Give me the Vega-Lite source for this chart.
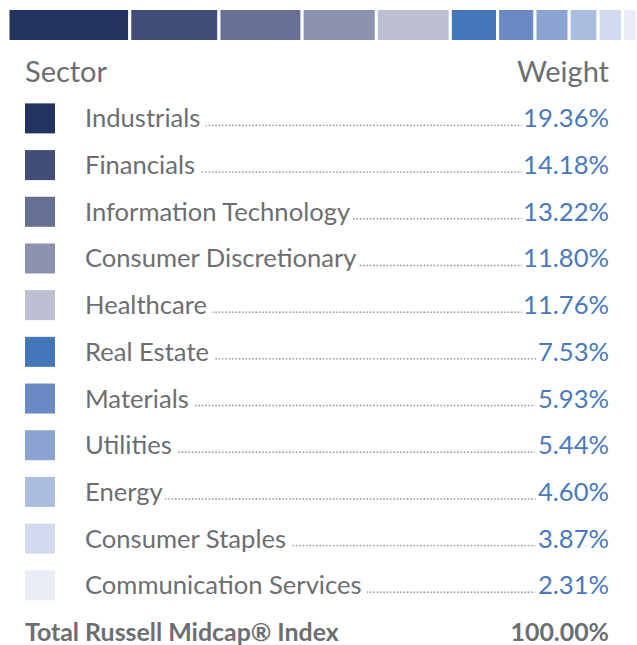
{
  "$schema": "https://vega.github.io/schema/vega-lite/v6.json",
  "width": 629,
  "height": 645,
  "padding": {"left": 8, "top": 0, "right": 0, "bottom": 0},
  "autosize": {"type": "none"},
  "background": "white",
  "config": {"view": {"stroke": null}, "text": {"font": "Lato"}},
  "datasets": {
    "sectors": [
      {"sector": "Industrials", "weight": 19.36},
      {"sector": "Financials", "weight": 14.18},
      {"sector": "Information Technology", "weight": 13.22},
      {"sector": "Consumer Discretionary", "weight": 11.80},
      {"sector": "Healthcare", "weight": 11.76},
      {"sector": "Real Estate", "weight": 7.53},
      {"sector": "Materials", "weight": 5.93},
      {"sector": "Utilities", "weight": 5.44},
      {"sector": "Energy", "weight": 4.60},
      {"sector": "Consumer Staples", "weight": 3.87},
      {"sector": "Communication Services", "weight": 2.31}
    ]
  },
  "data": {"name": "sectors"},
  "transform": [
    {"calculate": "format(datum.weight, '.2f') + '%'", "as": "label"}
  ],
  "encoding": {
    "y": {
      "field": "sector",
      "type": "ordinal",
      "scale": {
        "type": "point",
        "padding": 0,
        "domain": ["_bar", "_head", "Industrials", "Financials", "Information Technology", "Consumer Discretionary", "Healthcare", "Real Estate", "Materials", "Utilities", "Energy", "Consumer Staples", "Communication Services", "_total"],
        "range": [25, 632]
      },
      "axis": null
    }
  },
  "layer": [
    {
      "transform": [
        {"stack": "weight", "groupby": [], "sort": [{"field": "weight", "order": "descending"}], "as": ["w0", "w1"]}
      ],
      "mark": {"type": "bar", "size": 33, "stroke": "white", "strokeWidth": 3},
      "encoding": {
        "x": {"field": "w0", "type": "quantitative", "scale": {"domain": [0, 100], "nice": false, "zero": true}, "axis": null},
        "x2": {"field": "w1"},
        "y": {"datum": "_bar"},
        "color": {
          "field": "sector",
          "type": "nominal",
          "scale": {
            "domain": ["Industrials", "Financials", "Information Technology", "Consumer Discretionary", "Healthcare", "Real Estate", "Materials", "Utilities", "Energy", "Consumer Staples", "Communication Services"],
            "range": ["#22335f", "#424e78", "#666f94", "#8b93b0", "#bdbfd4", "#4477b9", "#6889c3", "#8aa3d1", "#abbde0", "#d0d9ed", "#e8ecf7"]
          },
          "legend": null
        }
      }
    },
    {
      "mark": {"type": "square", "size": 900, "filled": true, "opacity": 1},
      "encoding": {
        "x": {"datum": 5.09},
        "color": {"field": "sector", "type": "nominal", "legend": null}
      }
    },
    {
      "mark": {"type": "rule", "yOffset": 7, "color": "#a0a2a6", "strokeWidth": 1.9, "strokeCap": "round", "strokeDash": [0.01, 3.35]},
      "encoding": {
        "x": {"datum": 12.24},
        "x2": {"datum": 95.2}
      }
    },
    {
      "mark": {"type": "text", "align": "left", "baseline": "alphabetic", "dy": 9, "fontSize": 25.6, "stroke": "white", "strokeWidth": 13, "strokeJoin": "round", "fill": "white"},
      "encoding": {"x": {"datum": 12.24}, "text": {"field": "sector"}}
    },
    {
      "mark": {"type": "text", "align": "left", "baseline": "alphabetic", "dy": 9, "fontSize": 25.6, "color": "#6d6e71"},
      "encoding": {"x": {"datum": 12.24}, "text": {"field": "sector"}}
    },
    {
      "mark": {"type": "text", "align": "right", "baseline": "alphabetic", "dy": 9, "fontSize": 25.6, "stroke": "white", "strokeWidth": 9, "strokeJoin": "round", "fill": "white"},
      "encoding": {"x": {"datum": 95.55}, "text": {"field": "label"}}
    },
    {
      "mark": {"type": "text", "align": "right", "baseline": "alphabetic", "dy": 9, "fontSize": 25.6, "color": "#4a7abd"},
      "encoding": {"x": {"datum": 95.55}, "text": {"field": "label"}}
    },
    {
      "data": {"values": [{"row": "_head", "left": "Sector", "right": "Weight"}]},
      "layer": [
        {
          "mark": {"type": "text", "align": "left", "baseline": "alphabetic", "dy": 10, "fontSize": 29, "color": "#6d6e71"},
          "encoding": {"x": {"datum": 2.7}, "y": {"field": "row", "type": "ordinal"}, "text": {"field": "left"}}
        },
        {
          "mark": {"type": "text", "align": "right", "baseline": "alphabetic", "dy": 10, "fontSize": 29, "color": "#6d6e71"},
          "encoding": {"x": {"datum": 95.55}, "y": {"field": "row", "type": "ordinal"}, "text": {"field": "right"}}
        }
      ]
    },
    {
      "data": {"values": [{"row": "_total", "left": "Total Russell Midcap® Index", "right": "100.00%"}]},
      "layer": [
        {
          "mark": {"type": "text", "align": "left", "baseline": "alphabetic", "dy": 9, "fontSize": 24.9, "fontWeight": "bold", "color": "#6d6e71"},
          "encoding": {"x": {"datum": 2.7}, "y": {"field": "row", "type": "ordinal"}, "text": {"field": "left"}}
        },
        {
          "mark": {"type": "text", "align": "right", "baseline": "alphabetic", "dy": 9, "fontSize": 24.9, "fontWeight": "bold", "color": "#6d6e71"},
          "encoding": {"x": {"datum": 95.55}, "y": {"field": "row", "type": "ordinal"}, "text": {"field": "right"}}
        }
      ]
    }
  ]
}
